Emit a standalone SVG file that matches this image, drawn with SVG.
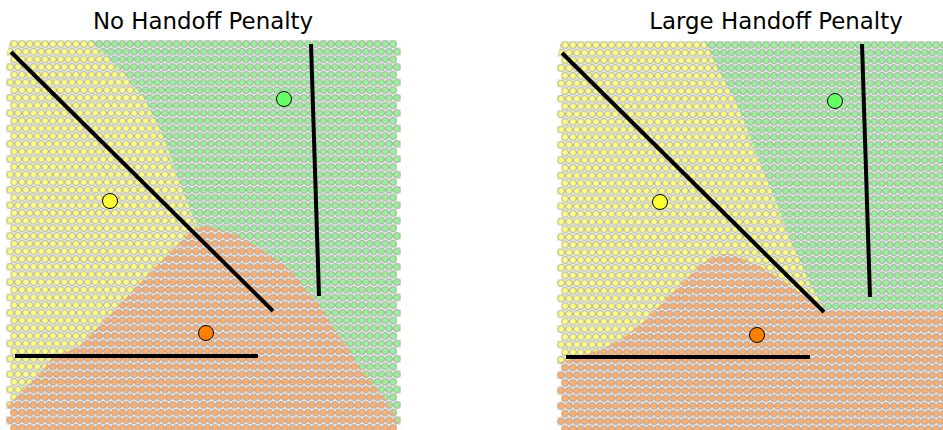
<svg xmlns="http://www.w3.org/2000/svg" width="943" height="430" viewBox="0 0 943 430">
<style>
.title{font-family:"DejaVu Sans",sans-serif;font-size:22.9px;fill:#000;text-anchor:middle}
.wall{stroke:#000;stroke-width:4;fill:none;stroke-linecap:butt}
.bs{stroke:#000;stroke-width:1}
.y{fill:#ffff84}.g{fill:#9cf09c}.o{fill:#ffb070}
</style>
<defs>
<pattern id="hex" patternUnits="userSpaceOnUse" x="10.335" y="40.16" width="7.73" height="15.36">
<path fill="#ececec" fill-rule="evenodd" d="M0,0H7.73V15.36H0Z M0.415,3.84a3.45,3.45 0 1,0 6.9,0a3.45,3.45 0 1,0 -6.9,0Z M-3.45,11.52a3.45,3.45 0 1,0 6.9,0a3.45,3.45 0 1,0 -6.9,0Z M4.28,11.52a3.45,3.45 0 1,0 6.9,0a3.45,3.45 0 1,0 -6.9,0Z"/>
<g fill="none" stroke="#9a9a9a" stroke-width="0.8">
<circle cx="3.865" cy="3.84" r="3.35"/>
<circle cx="0" cy="11.52" r="3.35"/>
<circle cx="7.73" cy="11.52" r="3.35"/>
</g>
</pattern>
<clipPath id="grid">
<path d="M10.4,40.16H396.8v7.68h3.8v7.68h-3.8v7.68h3.8v7.68h-3.8v7.68h3.8v7.68h-3.8v7.68h3.8v7.68h-3.8v7.68h3.8v7.68h-3.8v7.68h3.8v7.68h-3.8v7.68h3.8v7.68h-3.8v7.68h3.8v7.68h-3.8v7.68h3.8v7.68h-3.8v7.68h3.8v7.68h-3.8v7.68h3.8v7.68h-3.8v7.68h3.8v7.68h-3.8v7.68h3.8v7.68h-3.8v7.68h3.8v7.68h-3.8v7.68h3.8v7.68h-3.8v7.68h3.8v7.68h-3.8v7.68h3.8v7.68h-3.8v7.68h3.8v7.68h-3.8v7.68h3.8v7.68h-3.8v7.68h3.8v7.68h-3.8v7.68h3.8v7.68h-3.8v7.68h3.8v7.68h-3.8v7.68h3.8v7.68h-3.8v7.68h3.8v7.68h-3.8v7.68h3.8v7.68h-3.8v7.68h3.8v7.68h-3.8v7.68h3.8v7.68h-3.8H6.3v-7.68h4.1v-7.68h-4.1v-7.68h4.1v-7.68h-4.1v-7.68h4.1v-7.68h-4.1v-7.68h4.1v-7.68h-4.1v-7.68h4.1v-7.68h-4.1v-7.68h4.1v-7.68h-4.1v-7.68h4.1v-7.68h-4.1v-7.68h4.1v-7.68h-4.1v-7.68h4.1v-7.68h-4.1v-7.68h4.1v-7.68h-4.1v-7.68h4.1v-7.68h-4.1v-7.68h4.1v-7.68h-4.1v-7.68h4.1v-7.68h-4.1v-7.68h4.1v-7.68h-4.1v-7.68h4.1v-7.68h-4.1v-7.68h4.1v-7.68h-4.1v-7.68h4.1v-7.68h-4.1v-7.68h4.1v-7.68h-4.1v-7.68h4.1v-7.68h-4.1v-7.68h4.1v-7.68h-4.1v-7.68h4.1v-7.68h-4.1v-7.68h4.1v-7.68h-4.1v-7.68h4.1v-7.68h-4.1v-7.68h4.1v-7.68h-4.1v-7.68h4.1v-7.68h-4.1v-7.68h4.1v-7.68h-4.1Z"/>
</clipPath>
</defs>

<text class="title" x="203" y="29">No Handoff Penalty</text>
<text class="title" x="776" y="29">Large Handoff Penalty</text>

<g id="panel-no-penalty">
<g id="coverage-left" clip-path="url(#grid)">
<rect class="y" x="0" y="38" width="410" height="402"/>
<polygon class="g" points="88,38 410,38 410,440 350,440 200,228 192,215 182,190 172,160 160,130 145,100 125,75 105,55"/>
<polygon class="o" points="205,226 230,232 255,245 275,258 290,270 303,285 315,300 325,312 335,330 345,345 355,360 370,380 385,398 395,415 400,430 402,440 0,440 0,410 9,405 15,398 27,386 43,370 53,356 77,348 92,333 124,300 150,272 170,252 190,232 200,227"/>
<rect x="0" y="38" width="410" height="402" fill="url(#hex)"/>
</g>
<g id="walls-left">
<line class="wall" x1="11" y1="52" x2="273" y2="311"/>
<line class="wall" x1="311" y1="44" x2="319" y2="296"/>
<line class="wall" x1="15" y1="356" x2="258" y2="356"/>
</g>
<g id="bs-green-left"><circle class="bs" cx="284" cy="99" r="7.5" fill="#66ff66"/></g>
<g id="bs-yellow-left"><circle class="bs" cx="110" cy="201" r="7.5" fill="#ffff33"/></g>
<g id="bs-orange-left"><circle class="bs" cx="206" cy="333" r="7.5" fill="#ff8000"/></g>
</g>

<g id="panel-large-penalty" transform="translate(551,1)">
<g id="coverage-right" clip-path="url(#grid)">
<rect class="y" x="0" y="38" width="410" height="402"/>
<polygon class="g" points="152,37 410,37 410,309 274,309 259,284 244,249 224,199 204,149 184,99 167,69"/>
<polygon class="o" points="0,361 11,361 29,355 49,349 69,339 89,324 109,304 129,284 149,264 167,253 181,253 209,265 236,282 249,292 264,303 275,310 410,310 410,440 0,440"/>
<rect x="0" y="38" width="410" height="402" fill="url(#hex)"/>
</g>
<g id="walls-right">
<line class="wall" x1="11" y1="52" x2="273" y2="311"/>
<line class="wall" x1="311" y1="43" x2="319" y2="296"/>
<line class="wall" x1="15" y1="356" x2="259" y2="356"/>
</g>
<g id="bs-green-right"><circle class="bs" cx="284" cy="100" r="7.5" fill="#66ff66"/></g>
<g id="bs-yellow-right"><circle class="bs" cx="109" cy="201" r="7.5" fill="#ffff33"/></g>
<g id="bs-orange-right"><circle class="bs" cx="206" cy="334" r="7.5" fill="#ff8000"/></g>
</g>
</svg>
